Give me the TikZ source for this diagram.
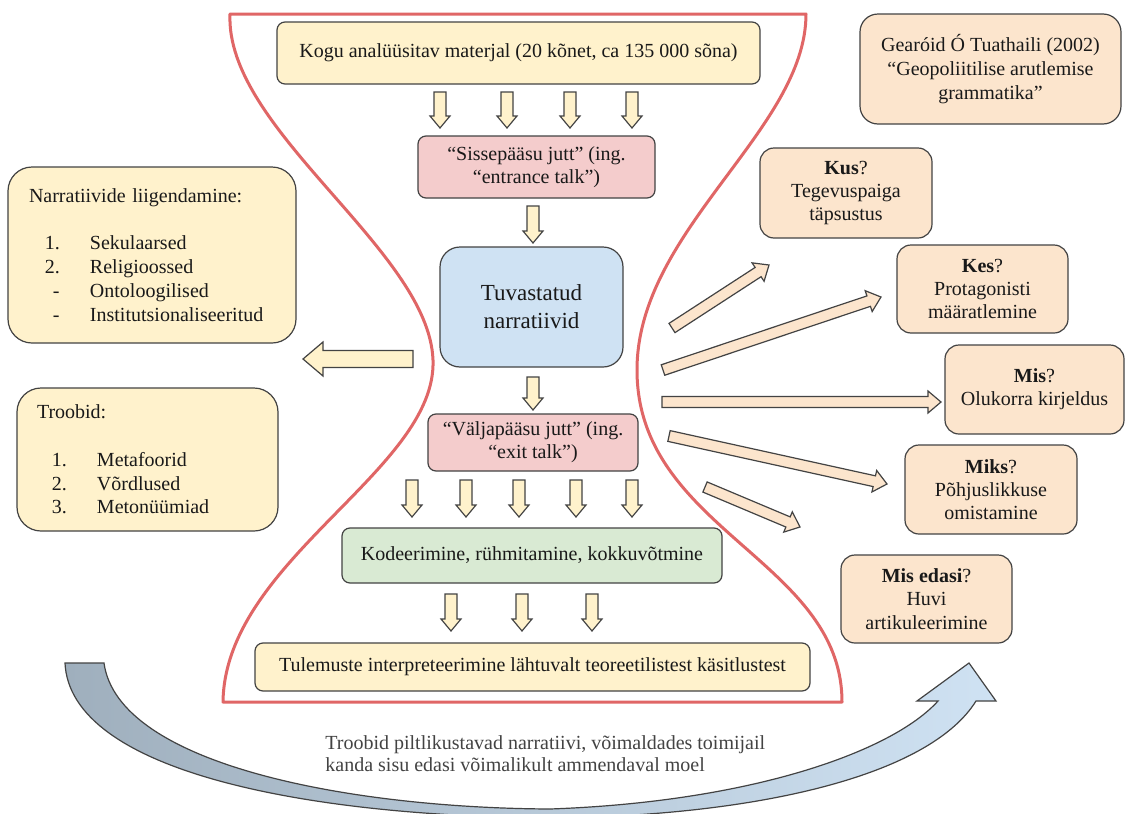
\documentclass[tikz,border=0pt]{standalone}
\usepackage{fontspec}
\setmainfont{Liberation Serif}
\newfontfamily\tnr{Liberation Serif}
\usetikzlibrary{calc}
\definecolor{ylw}{HTML}{FFF2CC}
\definecolor{pnk}{HTML}{F4CCCC}
\definecolor{blu}{HTML}{CFE2F3}
\definecolor{grn}{HTML}{D9EAD3}
\definecolor{org}{HTML}{FCE5CD}
\definecolor{bord}{HTML}{434343}
\definecolor{redl}{HTML}{E06666}
\definecolor{arrL}{HTML}{9FAFBD}
\definecolor{txtg}{HTML}{434343}
% block arrow: #1 style, #2 tail, #3 tip, #4 half shaft, #5 half head, #6 head length
\newcommand\blockarrow[6]{%
  \coordinate (bah) at ($(#3)!#6!(#2)$);
  \filldraw[#1] ($(#2)!#4!90:(#3)$) -- ($(bah)!#4!-90:(#2)$) -- ($(bah)!#5!-90:(#2)$) -- (#3)
     -- ($(bah)!#5!90:(#2)$) -- ($(bah)!#4!90:(#2)$) -- ($(#2)!#4!-90:(#3)$) -- cycle;
}
\begin{document}
\begin{tikzpicture}[x=0.5pt,y=-0.5pt,
  box/.style={draw=bord, line width=0.6pt, rounded corners=4pt, inner sep=0pt, align=center,
    text=black!90, font=\tnr\fontsize{10}{11.6}\selectfont},
  ybox/.style={box, fill=ylw},
  pbox/.style={box, fill=pnk},
  obox/.style={box, fill=org, rounded corners=7pt},
  sarr/.style={fill=ylw, draw=bord, line width=0.6pt, line join=miter},
  oarr/.style={fill=org, draw=bord, line width=0.6pt, line join=miter},
  redline/.style={draw=redl, line width=1.5pt, line join=round}]
\useasboundingbox (0,0) rectangle (1126,814);
\fill[white] (0,0) rectangle (1126,814);

% hourglass outline
\draw[redline] (230,14) -- (806,14)
  .. controls (806,130) and (637,230) .. (637,370)
  .. controls (637,530) and (842,560) .. (842,702)
  -- (223,702)
  .. controls (225,560) and (437,470) .. (433,360)
  .. controls (429,250) and (225,130) .. (230,14) -- cycle;

% central column
\node[ybox, minimum width=241.5pt, minimum height=31pt] (kogu) at (518.5,53)
  {Kogu analüüsitav materjal (20 kõnet, ca 135 000 sõna)};
\node[pbox, minimum width=118.5pt, minimum height=31pt] (sisse) at (536.5,167)
  {“Sissepääsu jutt” (ing.\\“entrance talk”)};
\node[box, fill=blu, rounded corners=10pt, minimum width=91.5pt, minimum height=60pt,
  font=\tnr\fontsize{11.5}{14}\selectfont] (tuv) at (531.5,307) {Tuvastatud\\narratiivid};
\node[pbox, minimum width=105pt, minimum height=28.5pt] (valja) at (533,442.5)
  {“Väljapääsu jutt” (ing.\\“exit talk”)};
\node[box, fill=grn, minimum width=190pt, minimum height=27.5pt] (kod) at (532,555.5)
  {Kodeerimine, rühmitamine, kokkuvõtmine};
\node[ybox, minimum width=277.5pt, minimum height=24pt] (tul) at (532.5,667)
  {Tulemuste interpreteerimine lähtuvalt teoreetilistest käsitlustest};

% left boxes
\node[ybox, rounded corners=12pt, minimum width=144pt, minimum height=88pt,
  text width=123pt, align=left, font=\tnr\fontsize{10}{11.85}\selectfont] (narr) at (152,255)
  {Narratiivide liigendamine:\\[11.85pt]
   \makebox[30.5pt][l]{\hspace*{8pt}1.}Sekulaarsed\\
   \makebox[30.5pt][l]{\hspace*{8pt}2.}Religioossed\\
   \makebox[30.5pt][l]{\hspace*{12pt}-}Ontoloogilised\\
   \makebox[30.5pt][l]{\hspace*{12pt}-}Institutsionaliseeritud};
\node[ybox, rounded corners=12pt, minimum width=130.5pt, minimum height=71.5pt,
  text width=110.5pt, align=left, font=\tnr\fontsize{10}{11.85}\selectfont] (troo) at (147.5,459.5)
  {Troobid:\\[11.85pt]
   \makebox[30pt][l]{\hspace*{7.5pt}1.}Metafoorid\\
   \makebox[30pt][l]{\hspace*{7.5pt}2.}Võrdlused\\
   \makebox[30pt][l]{\hspace*{7.5pt}3.}Metonüümiad};

% right boxes
\node[obox, rounded corners=9pt, minimum width=130.5pt, minimum height=55pt,
  font=\tnr\fontsize{10}{12.2}\selectfont] (gear) at (990.5,69)
  {Gearóid Ó Tuathaili (2002)\\“Geopoliitilise arutlemise\\grammatika”};
\node[obox, minimum width=86pt, minimum height=45pt] (kus) at (846,193)
  {\textbf{Kus}?\\Tegevuspaiga\\täpsustus};
\node[obox, minimum width=85.5pt, minimum height=44pt] (kes) at (982.5,289)
  {\textbf{Kes}?\\Protagonisti\\määratlemine};
\node[obox, minimum width=89.5pt, minimum height=44.5pt] (mis) at (1034.5,389.5)
  {\textbf{Mis}?\\Olukorra kirjeldus};
\node[obox, minimum width=86pt, minimum height=44.5pt] (miks) at (991,489.5)
  {\textbf{Miks}?\\Põhjuslikkuse\\omistamine};
\node[obox, minimum width=85.5pt, minimum height=44pt] (edasi) at (926.5,599)
  {\textbf{Mis edasi}?\\Huvi\\artikuleerimine};

% small down arrows
\foreach \x [count=\i] in {440,507,570,632} {
  \coordinate (ka\i) at (\x,92); \coordinate (kb\i) at (\x,128);
  \blockarrow{sarr}{ka\i}{kb\i}{3pt}{5pt}{6pt}
}
\coordinate (sa) at (533,206); \coordinate (sb) at (533,243);
\blockarrow{sarr}{sa}{sb}{3pt}{5pt}{6pt}
\coordinate (ta) at (533,377); \coordinate (tb) at (533,410);
\blockarrow{sarr}{ta}{tb}{3pt}{5pt}{6pt}
\foreach \x [count=\i] in {412,466,519,576,632} {
  \coordinate (va\i) at (\x,480); \coordinate (vb\i) at (\x,517);
  \blockarrow{sarr}{va\i}{vb\i}{3pt}{5pt}{6pt}
}
\foreach \x [count=\i] in {451,522,592} {
  \coordinate (ca\i) at (\x,594); \coordinate (cb\i) at (\x,631);
  \blockarrow{sarr}{ca\i}{cb\i}{3pt}{5pt}{6pt}
}

% left big arrow
\coordinate (la) at (413,359); \coordinate (lb) at (303,359);
\blockarrow{sarr}{la}{lb}{4.25pt}{8.5pt}{10pt}

% right arrows
\coordinate (r1a) at (672,328); \coordinate (r1b) at (769,265);
\blockarrow{oarr}{r1a}{r1b}{2.75pt}{5.5pt}{6.5pt}
\coordinate (r2a) at (663,370); \coordinate (r2b) at (881,297);
\blockarrow{oarr}{r2a}{r2b}{2.75pt}{5.5pt}{6.5pt}
\coordinate (r3a) at (662,402); \coordinate (r3b) at (941,402);
\blockarrow{oarr}{r3a}{r3b}{2.75pt}{5.5pt}{6.5pt}
\coordinate (r4a) at (669,436); \coordinate (r4b) at (887,484);
\blockarrow{oarr}{r4a}{r4b}{2.75pt}{5.5pt}{6.5pt}
\coordinate (r5a) at (705,487); \coordinate (r5b) at (800,527);
\blockarrow{oarr}{r5a}{r5b}{2.75pt}{5.5pt}{6.5pt}

% bottom curved arrow
\path[draw=bord, line width=0.6pt, line join=miter, left color=arrL, right color=blu]
  (65,663) -- (104,663)
  .. controls (118,765) and (350,808) .. (550,809)
  .. controls (750,802) and (892,752) .. (938,701)
  -- (917,701) -- (969,663) -- (996,701) -- (976,701)
  .. controls (930,775) and (760,816) .. (550,818)
  .. controls (300,816) and (70,770) .. (65,663) -- cycle;

\node[anchor=west, align=left, text=txtg, inner sep=0pt,
  font=\tnr\fontsize{10}{11}\selectfont] (bot) at (325,754)
  {Troobid piltlikustavad narratiivi, võimaldades toimijail\\
   kanda sisu edasi võimalikult ammendaval moel};
\end{tikzpicture}
\end{document}
